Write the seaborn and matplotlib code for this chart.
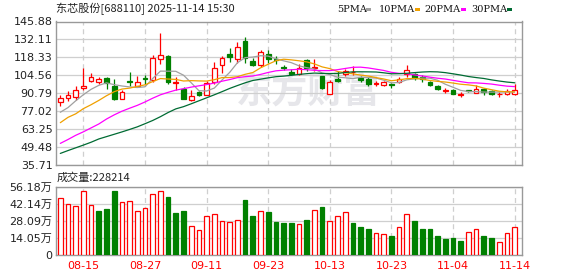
import numpy as np
import pandas as pd
import matplotlib
matplotlib.use("Agg")
import matplotlib.pyplot as plt
import matplotlib.patches as mpatches
import seaborn as sns

# ---------------- data ----------------
title = "东芯股份[688110] 2025-11-14 15:30"
vol_title = "成交量:228214"
date_ticks = [3, 11, 19, 27, 35, 43, 51, 59]
date_labels = ["08-15", "08-27", "09-11", "09-23", "10-13", "10-23", "11-04", "11-14"]
price_tick_labels = ["35.71", "49.48", "63.25", "77.02", "90.79", "104.56", "118.33", "132.11", "145.88"]
vol_tick_values = [0, 14.045, 28.09, 42.135, 56.18]
vol_tick_labels = ["0", "14.05万", "28.09万", "42.14万", "56.18万"]

opens = [84.4, 87.5, 88.1, 94.9, 100.3, 99.7, 102.8, 96.3, 86.6, 100.2,
         96.7, 102.2, 100.8, 116.8, 119.2, 98.9, 94.0, 85.7, 91.6, 89.5,
         99.7, 112.5, 120.9, 117.0, 131.2, 115.5, 112.5, 120.6, 117.0, 110.8,
         107.0, 105.5, 116.2, 110.3, 103.8, 90.5, 101.8, 105.3, 107.2, 102.8,
         102.0, 98.0, 97.2, 98.2, 99.4, 105.8, 105.3, 102.9, 99.7, 96.4,
         92.9, 93.6, 89.8, 93.0, 91.3, 94.1, 92.8, 90.1, 90.5, 90.5]
closes = [86.9, 89.1, 93.1, 96.7, 103.3, 102.1, 98.7, 86.1, 91.7, 99.7,
          99.8, 101.4, 118.0, 120.0, 99.5, 99.3, 86.5, 88.9, 89.6, 98.4,
          110.4, 117.5, 118.3, 126.5, 118.0, 112.6, 122.6, 116.8, 116.3, 110.2,
          105.5, 110.4, 109.8, 111.0, 95.2, 99.4, 100.3, 107.6, 107.4, 100.8,
          98.2, 98.4, 99.2, 97.5, 102.0, 108.4, 102.2, 102.0, 97.2, 94.1,
          93.1, 90.5, 90.0, 92.8, 93.8, 91.4, 90.3, 90.4, 92.6, 93.6]
highs = [89.5, 92.4, 96.2, 109.8, 106.2, 103.5, 103.0, 101.5, 93.6, 106.8,
         104.4, 104.9, 120.0, 136.8, 119.8, 103.4, 95.8, 93.0, 92.8, 100.2,
         115.0, 119.6, 125.2, 130.3, 133.7, 118.0, 123.9, 123.9, 119.5, 112.5,
         109.6, 113.2, 117.0, 117.3, 104.0, 100.8, 107.9, 109.6, 112.0, 103.8,
         103.3, 100.0, 100.2, 98.6, 103.3, 112.2, 106.3, 104.5, 100.2, 97.1,
         95.1, 94.3, 91.8, 93.6, 96.9, 94.6, 93.6, 91.5, 94.3, 98.2]
lows = [81.3, 84.8, 85.6, 93.6, 99.1, 97.8, 94.4, 85.7, 86.3, 96.5,
        96.1, 98.0, 99.5, 113.6, 98.0, 93.2, 86.0, 84.8, 88.3, 89.3,
        97.9, 106.1, 115.0, 114.2, 114.0, 111.7, 111.2, 113.7, 113.0, 108.6,
        104.6, 104.6, 107.5, 107.5, 94.4, 90.3, 99.4, 103.8, 104.5, 99.4,
        96.4, 96.3, 96.1, 95.1, 98.4, 103.3, 101.0, 99.4, 96.6, 93.6,
        91.0, 90.0, 88.0, 91.8, 91.0, 89.5, 89.5, 88.0, 89.3, 89.3]
volumes_wan = [46.6, 42.0, 40.0, 52.4, 40.9, 36.2, 37.8, 52.6, 43.3, 44.2,
               35.9, 38.4, 50.2, 52.4, 47.7, 34.5, 36.2, 23.6, 20.3, 31.8,
               33.5, 27.7, 27.1, 28.5, 45.2, 32.1, 35.9, 35.4, 27.1, 26.3,
               26.6, 25.5, 28.8, 37.0, 39.5, 27.7, 32.1, 35.1, 26.3, 23.0,
               21.4, 18.1, 17.3, 15.6, 23.0, 33.7, 28.0, 21.4, 21.4, 15.6,
               13.2, 14.0, 11.5, 18.9, 21.4, 15.6, 14.0, 10.7, 18.1, 22.82]
vol_up = [1, 1, 1, 1, 1, 0, 0, 0, 1, 1,
          1, 1, 1, 1, 0, 0, 0, 1, 1, 1,
          1, 1, 1, 1, 0, 0, 1, 0, 0, 0,
          0, 1, 0, 1, 0, 1, 1, 1, 0, 0,
          0, 1, 1, 0, 1, 1, 0, 0, 0, 0,
          0, 0, 0, 1, 1, 0, 0, 1, 1, 1]
# moving-average values before a full window exists
ma5_head = [76.2, 79.8, 85.0, 89.7]
ma10_head = [68.2, 72.3, 75.0, 79.0, 82.0, 85.3, 88.9, 92.0, 94.0]
ma20_head = [52.3, 55.3, 58.5, 61.2, 64.2, 67.2, 71.0, 74.2, 77.0, 79.3,
             81.5, 84.1, 87.0, 89.6, 91.5, 93.2, 94.3, 95.5, 96.5]
ma30_head = [44.6, 46.8, 48.9, 51.0, 53.2, 55.7, 57.5, 59.3, 61.1, 63.0,
             65.0, 67.4, 69.9, 72.8, 76.0, 78.8, 80.5, 82.7, 85.0, 87.3,
             89.6, 92.0, 94.5, 96.7, 98.8, 100.6, 101.6, 102.6, 103.5]
ma_names = ["5PMA", "10PMA", "20PMA", "30PMA"]

# ---------------- styling ----------------
RED = "#ff0000"
GREEN = "#008000"
MA_COLORS = ["#a0a0a0", "#f0a000", "#ff00ff", "#006b33"]
GRID = "#cfcfcf"
FRAME = "#999999"
TXT = "#222222"
CJK = ["Noto Sans CJK SC", "DejaVu Sans"]
NUMF = ["DejaVu Sans", "Noto Sans CJK SC"]

sns.set_theme(style="white")
plt.rcParams["font.family"] = NUMF

W, H = 578, 276
fig = plt.figure(figsize=(W / 100, H / 100), dpi=100)
fig.patch.set_facecolor("white")

def fx(px):
    return px / W

def fy(py):
    return 1 - py / H

L, R = 56, 522
ax1 = fig.add_axes([fx(L), fy(165), fx(R - L), (165 - 21.5) / H])
ax2 = fig.add_axes([fx(L), fy(255), fx(R - L), (255 - 186.7) / H])

n = len(closes)
idx = np.arange(n)
df = pd.DataFrame({"idx": idx, "open": opens, "close": closes, "high": highs,
                   "low": lows, "vol": volumes_wan, "up": vol_up})

# moving averages
heads = [ma5_head, ma10_head, ma20_head, ma30_head]
for name, win, head in zip(ma_names, [5, 10, 20, 30], heads):
    s = df["close"].rolling(win).mean()
    s.iloc[:len(head)] = head
    df[name] = s

XMIN, XMAX = -0.56, 59.96

# ---------------- candles ----------------
for _, r in df.iterrows():
    up = r["close"] >= r["open"]
    c = RED if up else GREEN
    ax1.vlines(r["idx"], r["low"], r["high"], color=c, lw=0.9, zorder=2)
    h = abs(r["close"] - r["open"])
    h = max(h, 0.25)
    ax1.bar(r["idx"], h, bottom=min(r["open"], r["close"]), width=0.62,
            facecolor="white" if up else GREEN, edgecolor=c, lw=0.9, zorder=3)

for name, col in zip(ma_names, MA_COLORS):
    sns.lineplot(data=df, x="idx", y=name, color=col, lw=0.9, ax=ax1,
                 zorder=4, legend=False)

# watermark
ax1.text((308 - L) / (R - L), (165 - 92) / (165 - 21.5), "东方财富",
         transform=ax1.transAxes, fontsize=26, color="#e6e6ea",
         fontweight="bold", ha="center", va="center", family=CJK, zorder=0.5)

price_ticks = [float(t) for t in price_tick_labels]
ax1.set_ylim(price_ticks[0], price_ticks[-1])
ax1.set_yticks(price_ticks)
ax1.set_yticklabels(price_tick_labels)
ax1.set_xlim(XMIN, XMAX)
ax1.set_xticks(date_ticks)
ax1.set_xticklabels([])

# ---------------- volume ----------------
sns.barplot(data=df, x="idx", y="vol", native_scale=True, width=0.62,
            errorbar=None, ax=ax2, color=GREEN, zorder=3)
for p, u in zip(ax2.patches, df["up"]):
    if u:
        p.set_facecolor("white")
        p.set_edgecolor(RED)
    else:
        p.set_facecolor(GREEN)
        p.set_edgecolor(GREEN)
    p.set_linewidth(0.9)

ax2.set_ylim(0, vol_tick_values[-1])
ax2.set_yticks(vol_tick_values)
ax2.set_yticklabels(vol_tick_labels)
ax2.set_xlim(XMIN, XMAX)
ax2.set_xticks(date_ticks)
ax2.set_xticklabels(date_labels)

for ax in (ax1, ax2):
    ax.set_xlabel("")
    ax.set_ylabel("")
    ax.set_facecolor("white")
    ax.grid(axis="y", color=GRID, lw=0.9, ls="-", zorder=0)
    ax.grid(axis="x", color=GRID, lw=0.9, ls=(0, (4, 3)), zorder=0)
    ax.set_axisbelow(True)
    for sp in ax.spines.values():
        sp.set_color(FRAME)
        sp.set_linewidth(1.0)
        sp.set_visible(True)
    ax.tick_params(axis="both", length=0, pad=2.5)
    for lab in ax.get_yticklabels():
        lab.set_fontsize(8)
        lab.set_color(TXT)
        lab.set_family(NUMF)

for lab in ax2.get_xticklabels():
    lab.set_fontsize(8)
    lab.set_color(RED)
ax2.tick_params(axis="x", pad=4)

# ---------------- texts ----------------
fig.text(fx(56), fy(9), title, fontsize=8, color=TXT, ha="left",
         va="center", family=CJK)
fig.text(fx(57), fy(177.5), vol_title, fontsize=8, color=TXT, ha="left",
         va="center", family=CJK)

leg_text_x = [337, 379, 424, 471]
leg_box_x = [366, 415, 461, 507]
for name, col, tx, bx in zip(ma_names, MA_COLORS, leg_text_x, leg_box_x):
    fig.text(fx(tx), fy(9.5), name, fontsize=7, color="#111111",
             ha="left", va="center", family=["DejaVu Serif"])
    fig.patches.append(mpatches.Rectangle((fx(bx), fy(11)), fx(5), 3 / H,
                                          transform=fig.transFigure,
                                          facecolor=col, edgecolor="none"))

fig.savefig("out.png", dpi=100, facecolor="white")
